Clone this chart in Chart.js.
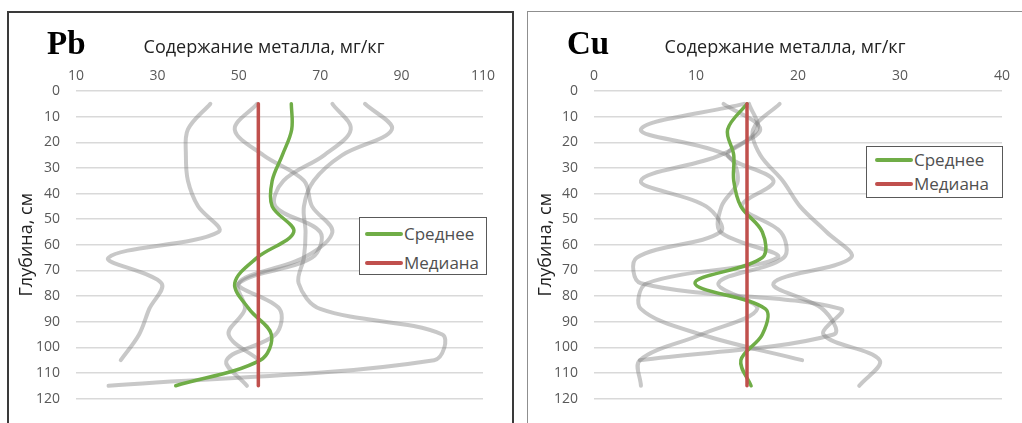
<!DOCTYPE html>
<html>
<head>
<meta charset="utf-8">
<script src="https://cdn.jsdelivr.net/npm/chart.js@4.4.0/dist/chart.umd.min.js"></script>
<style>
body { margin: 0; width: 1022px; height: 423px; overflow: hidden; background: #fff; position: relative; font-family: "Open Sans", sans-serif; }
.panel { position: absolute; box-sizing: border-box; }
#panelPb { left: 7px; top: 11px; width: 507px; height: 440px; border: 2px solid #3a3a3a; }
#panelCu { left: 527px; top: 11px; width: 520px; height: 440px; border: 1px solid #8f8f8f; }
canvas { position: absolute; }
.elem { position: absolute; font-family: "Liberation Serif", serif; font-weight: bold; font-size: 33px; line-height: 33px; color: #000; }
.xtitle { position: absolute; font-size: 18px; line-height: 18px; color: #222; white-space: nowrap; transform: translateX(-50%); }
.legend { position: absolute; box-sizing: border-box; border: 1px solid #595959; background: #fff; }
.legend .row { position: absolute; height: 24px; line-height: 24px; font-size: 17px; color: #505050; white-space: nowrap; }
.legend .swatch { position: absolute; height: 4px; top: 10px; border-radius: 2px; }
</style>
</head>
<body>
<div class="panel" id="panelPb"></div>
<div class="panel" id="panelCu"></div>
<canvas id="chartPb" width="502" height="410" style="left:9px;top:13px"></canvas>
<canvas id="chartCu" width="494" height="410" style="left:528px;top:13px"></canvas>
<div class="elem" style="left:47px;top:27px">Pb</div>
<div class="elem" style="left:567px;top:27px">Cu</div>
<div class="xtitle" style="left:264px;top:37px">Содержание металла, мг/кг</div>
<div class="xtitle" style="left:785px;top:37px">Содержание металла, мг/кг</div>
<div class="legend" id="legendPb" style="left:359px;top:217px;width:128px;height:58px"></div>
<div class="legend" id="legendCu" style="left:866px;top:146px;width:137px;height:52px"></div>
<script>
// sampling depth, cm (every profile is sampled on this grid)
const depths = [5, 15, 25, 35, 45, 55, 65, 75, 85, 95, 105, 115];

// Pb, mg/kg - single profiles (grey), mean and median
const pbProfile1 = [43, 37.5, 37, 37.5, 40, 45, 18, 31, 28, 25.5, 21];
const pbProfile2 = [54.5, 49, 56, 66, 68, 73, 66, 50, 60, 59, 47, 52];
const pbProfile3 = [73, 77.5, 71, 61, 59, 70, 68, 50, 51.5, 47.5, 55];
const pbProfile4 = [81, 87.6, 75.4, 68.4, 66, 66.4, 66, 64.7, 70, 100, 98, 18];
const pbMean = [62.9, 63, 60.7, 58.2, 58.2, 63.5, 54.5, 49, 52.5, 58, 55.3, 34.5];
const pbMedian = [54.8, 54.8, 54.8, 54.8, 54.8, 54.8, 54.8, 54.8, 54.8, 54.8, 54.8, 54.8];

// Cu, mg/kg
const cuProfile1 = [14.7, 4.6, 13, 14.1, 12.5, 12.4, 18, 5.2, 4.6, 10.5, 20.4];
const cuProfile2 = [12.7, 16.3, 13.1, 17.6, 14.5, 18.3, 18.6, 12.2, 16, 10.5, 4.5, 4.6];
const cuProfile3 = [15.2, 16, 12.4, 4.6, 11, 12.4, 4.2, 4.6, 24.2, 22.5, 28, 26];
const cuProfile4 = [18.2, 15.6, 16.3, 18.5, 20.2, 22.8, 25.2, 17.6, 22.4, 23.5, 4.5];
const cuMean = [15.0, 13.1, 13.7, 13.7, 14.4, 16.5, 16.5, 9.9, 16.8, 16.5, 14.4, 15.4];
const cuMedian = [15.0, 15.0, 15.0, 15.0, 15.0, 15.0, 15.0, 15.0, 15.0, 15.0, 15.0, 15.0];

const yTitle = 'Глубина, см';
const meanLabel = 'Среднее';
const medianLabel = 'Медиана';

const GREY = 'rgba(125,125,125,0.42)';
const GREEN = '#70ad47';
const RED = '#c0504d';

function points(values) {
	return values.map((v, i) => ({ x: v, y: depths[i] }));
}

function series(label, values, color, width, order) {
	return {
		label: label,
		data: points(values),
		showLine: true,
		borderColor: color,
		backgroundColor: color,
		borderWidth: width,
		borderCapStyle: 'round',
		borderJoinStyle: 'round',
		pointRadius: 0,
		tension: 0.35,
		order: order // lower order is drawn on top
	};
}

function makeChart(id, xMin, xMax, xStep, profiles, mean, median, box) {
	let datasets = [
		series(medianLabel, median, RED, 3.5, 0),
		series(meanLabel, mean, GREEN, 3.5, 1)
	];
	profiles.forEach(p => datasets.push(series('', p, GREY, 4, 2)));

	const tickFont = { family: 'Open Sans', size: 14 };
	return new Chart(document.getElementById(id), {
		type: 'scatter',
		data: { datasets: datasets },
		options: {
			responsive: false,
			animation: false,
			layout: { padding: { left: 0, top: 0, right: box.padRight, bottom: box.padBottom } },
			plugins: { legend: { display: false }, tooltip: { enabled: false } },
			scales: {
				x: {
					type: 'linear', position: 'top',
					min: xMin, max: xMax,
					ticks: { stepSize: xStep, padding: 7, color: '#595959', font: tickFont },
					grid: { display: false, drawTicks: false },
					border: { display: false },
					afterFit: s => { s.height = box.xHeight; }
				},
				y: {
					type: 'linear', reverse: true,
					min: 0, max: 120,
					ticks: { stepSize: 10, padding: 16, color: '#595959', font: tickFont },
					grid: { color: '#d9d9d9', lineWidth: 1.5, drawTicks: false },
					border: { display: false },
					title: { display: true, text: yTitle, color: '#222', font: { family: 'Open Sans', size: 18 }, padding: { top: 7 } },
					afterFit: s => { s.width = box.yWidth; }
				}
			}
		}
	});
}

// legend box drawn from the mean / median datasets
function makeLegend(id, chart, rowCenters, swLeft, swWidth) {
	const el = document.getElementById(id);
	const items = chart.data.datasets.filter(d => d.label).sort((a, b) => b.order - a.order);
	items.forEach((d, i) => {
		const row = document.createElement('div');
		row.className = 'row';
		row.style.top = (rowCenters[i] - 12) + 'px';
		row.style.left = '0px';
		const sw = document.createElement('span');
		sw.className = 'swatch';
		sw.style.left = swLeft + 'px';
		sw.style.width = swWidth + 'px';
		sw.style.background = d.borderColor;
		const txt = document.createElement('span');
		txt.textContent = d.label;
		txt.style.position = 'absolute';
		txt.style.left = (swLeft + swWidth + 1) + 'px';
		row.appendChild(sw);
		row.appendChild(txt);
		el.appendChild(row);
	});
}

const pbChart = makeChart('chartPb', 10, 110, 20,
	[pbProfile1, pbProfile2, pbProfile3, pbProfile4], pbMean, pbMedian,
	{ yWidth: 67, xHeight: 78, padRight: 28, padBottom: 20 });
const cuChart = makeChart('chartCu', 0, 40, 10,
	[cuProfile1, cuProfile2, cuProfile3, cuProfile4], cuMean, cuMedian,
	{ yWidth: 66, xHeight: 78, padRight: 20, padBottom: 20 });

makeLegend('legendPb', pbChart, [16, 45], 5, 38);
makeLegend('legendCu', cuChart, [13, 37], 8, 38);
</script>
</body>
</html>
